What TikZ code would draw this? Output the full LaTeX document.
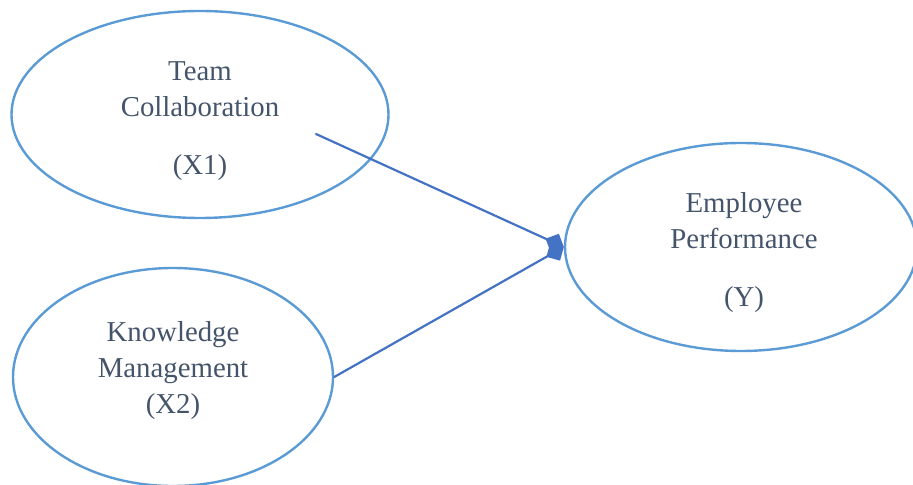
\documentclass[tikz,border=0pt]{standalone}
\usepackage{fontspec}
\setmainfont{Liberation Serif}
\usetikzlibrary{arrows.meta,shapes.geometric}
\definecolor{ovalblue}{RGB}{91,155,213}
\definecolor{linkblue}{RGB}{68,114,196}
\definecolor{txtgray}{RGB}{68,84,106}
\begin{document}
\begin{tikzpicture}[x=0.5pt,y=-0.5pt,line join=round,line cap=round,
  construct/.style={ellipse,draw=ovalblue,line width=1.2pt,inner sep=0pt},
  lbl/.style={align=center,text=txtgray,font=\fontsize{14.4}{18}\selectfont,inner sep=0pt},
  link/.style={draw=linkblue,line width=1.1pt,-{Diamond[length=10pt,width=10pt]}}]
\useasboundingbox (0,0) rectangle (913,485);
% constructs
\node[construct,minimum width=188.5pt,minimum height=103.5pt] (tc) at (200,114.5) {};
\node[construct,minimum width=160pt,minimum height=109pt] (km) at (173,377) {};
\node[construct,minimum width=176pt,minimum height=104pt] (ep) at (741,247) {};
\node[lbl] (tctext) at (200,121) {Team\\Collaboration\\[11pt](X1)};
\node[lbl] (kmtext) at (173,371) {Knowledge\\Management\\(X2)};
\node[lbl] (eptext) at (744,253) {Employee\\Performance\\[11pt](Y)};
% paths
\coordinate (tcstart) at (316,134);
\draw[link] (tcstart) -- (ep.west);
\draw[link] (km.east) -- (ep.west);
\end{tikzpicture}
\end{document}
